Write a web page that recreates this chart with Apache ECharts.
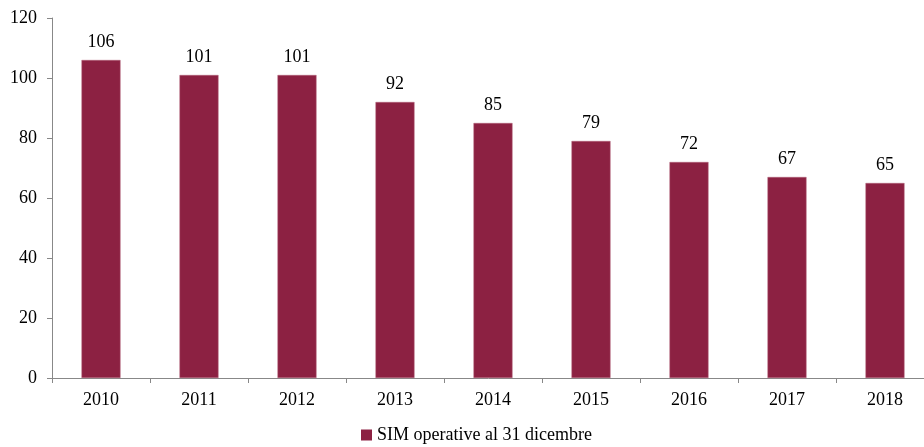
<!DOCTYPE html>
<html><head><meta charset="utf-8">
<script src="https://cdn.jsdelivr.net/npm/echarts@6/dist/echarts.min.js"></script>
<style>html,body{margin:0;padding:0;background:#fff}#c{width:924px;height:447px}</style>
</head><body><div id="c"></div>
<script>
const categories = ['2010','2011','2012','2013','2014','2015','2016','2017','2018'];
const simValues = [106,101,101,92,85,79,72,67,65];
const seriesName = 'SIM operative al 31 dicembre';
const yTicks = {min:0, max:120, interval:20};
const font = '"Liberation Serif", "DejaVu Serif", serif';
const chart = echarts.init(document.getElementById('c'));
chart.setOption({
  animation:false,
  textStyle:{fontFamily:font},
  grid:{left:52, right:-10, top:18, bottom:69, containLabel:false, outerBoundsMode:'none'},
  legend:{top:421, left:356, itemWidth:11, itemHeight:11, itemGap:4, icon:'rect',
    itemStyle:{borderWidth:0},
    textStyle:{fontFamily:font, fontSize:18, color:'#000'}, data:[seriesName]},
  xAxis:{type:'category', data:categories,
    axisLine:{lineStyle:{color:'#888', width:1}},
    axisTick:{show:true, alignWithLabel:false, length:5, lineStyle:{color:'#888'}},
    axisLabel:{fontFamily:font, fontSize:18, color:'#000', margin:13}},
  yAxis:{type:'value', min:yTicks.min, max:yTicks.max, interval:yTicks.interval,
    axisLine:{show:true, lineStyle:{color:'#888', width:1}},
    axisTick:{show:true, length:5, lineStyle:{color:'#888'}},
    splitLine:{show:false},
    axisLabel:{fontFamily:font, fontSize:18, color:'#000', margin:15}},
  series:[{name:seriesName, type:'bar', data:simValues, barWidth:39,
    itemStyle:{color:'#8C2142', borderColor:'#B0607A', borderWidth:0.5},
    label:{show:true, position:'top', distance:9, fontFamily:font, fontSize:18, color:'#000'}}]
});
</script></body></html>
